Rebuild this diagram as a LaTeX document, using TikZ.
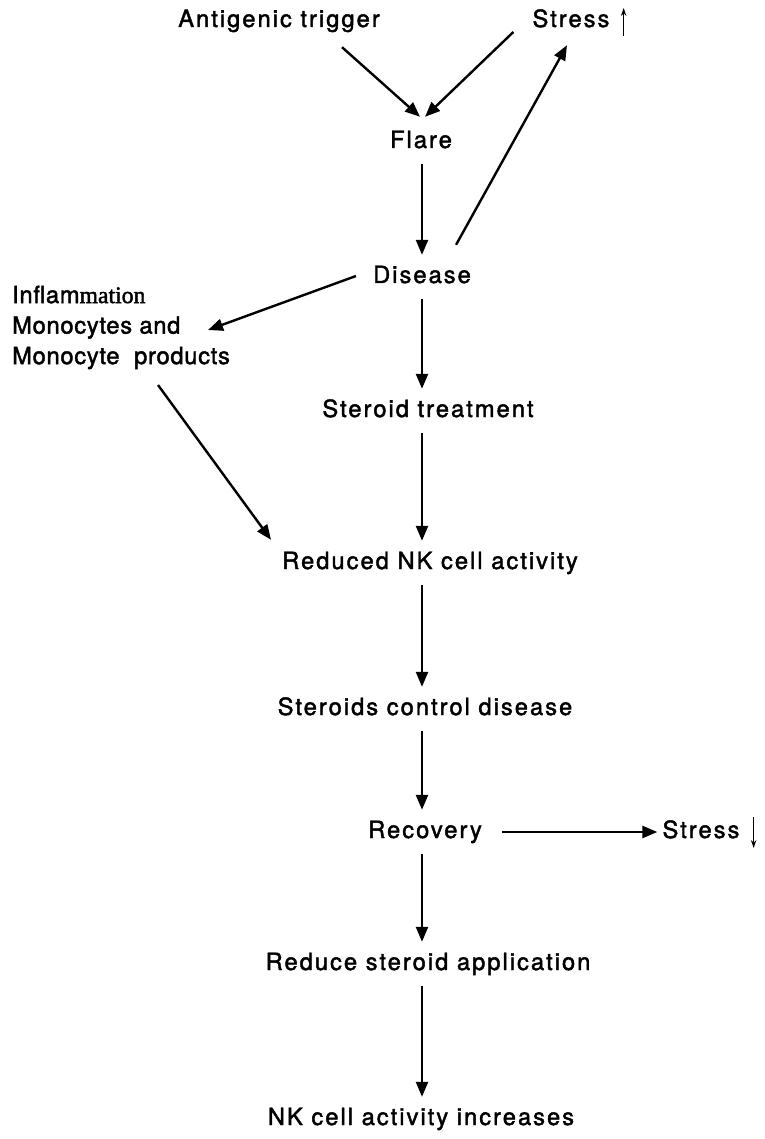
\documentclass[tikz,border=0pt]{standalone}
\usepackage{fontspec}
\setmainfont{TeX Gyre Heros}[LetterSpace=8.5, FakeBold=1.8]
\newfontfamily\oddfont{Liberation Serif}[FakeBold=1.8]
\usetikzlibrary{arrows.meta,calc}
\begin{document}
\begin{tikzpicture}[x=1pt,y=-1pt,
  lbl/.style={font=\fontsize{23.7}{28}\selectfont, anchor=base, inner xsep=8pt, inner ysep=11pt, text height=17pt, text depth=5pt},
  blocklbl/.style={font=\fontsize{23.7}{30.5}\selectfont\addfontfeatures{LetterSpace=3}, align=left, anchor=north west, inner sep=0pt},
  arr/.style={line width=2.4pt, -{Triangle[length=15pt,width=12pt]}},
  mini/.style={line width=1.5pt, -{Stealth[length=8pt,width=5.5pt]}}]
\useasboundingbox (0,0) rectangle (764,1139);
\fill[white] (0,0) rectangle (764,1139);
\coordinate (axis) at (422,0);
% nodes
\node[lbl] (ant) at (279,27) {Antigenic trigger};
\node[lbl] (str) at (571,27) {Stress};
\node[lbl] (flare) at (421,148) {Flare};
\node[lbl] (dis) at (422,283) {Disease};
\node[blocklbl] (infl) at (12,285.5) {Inflam{\oddfont mation}\\Monocytes and\\Monocyte\ \ products};
\node[lbl] (ster) at (428,417) {Steroid treatment};
\node[lbl] (red) at (430,569) {Reduced NK cell activity};
\node[lbl] (ctrl) at (425,715) {Steroids control disease};
\node[lbl] (rec) at (425,838) {Recovery};
\node[lbl] (strdn) at (701,838) {Stress};
\node[lbl] (reduce) at (428,970) {Reduce steroid application};
\node[lbl] (nk) at (421,1125) {NK cell activity increases};
% connectors
\draw[arr] ([xshift=63pt,yshift=-4pt]ant.south) -- ([xshift=-1pt,yshift=3pt]flare.north);
\draw[arr] ([xshift=-11pt,yshift=-11pt]str.west) -- ([xshift=4pt,yshift=3pt]flare.north);
\draw[arr] (flare.south -| axis) -- (dis.north -| axis);
\draw[arr] ([xshift=-23pt,yshift=10pt]dis.north east) -- ([xshift=-4pt,yshift=-2pt]str.south);
\draw[arr] ([xshift=-9pt,yshift=1pt]dis.west) -- ([xshift=196pt,yshift=-44.5pt]infl.north west);
\draw[arr] ([xshift=146pt,yshift=-99.5pt]infl.north west) -- ([xshift=-3pt,yshift=1pt]red.north west);
\draw[arr] (dis.south -| axis) -- (ster.north -| axis);
\draw[arr] (ster.south -| axis) -- (red.north -| axis);
\draw[arr] (red.south -| axis) -- (ctrl.north -| axis);
\draw[arr] (ctrl.south -| axis) -- (rec.north -| axis);
\draw[arr] (rec.south -| axis) -- (reduce.north -| axis);
\draw[arr] (reduce.south -| axis) -- (nk.north -| axis);
\draw[arr] ([xshift=12pt]rec.east) -- ([xshift=3pt]strdn.west);
% small up / down marks after "Stress"
\draw[mini] ([xshift=6pt,yshift=-15pt]str.east) -- ([xshift=6pt,yshift=13pt]str.east);
\draw[mini] ([xshift=6pt,yshift=15pt]strdn.east) -- ([xshift=6pt,yshift=-16pt]strdn.east);
\end{tikzpicture}
\end{document}
